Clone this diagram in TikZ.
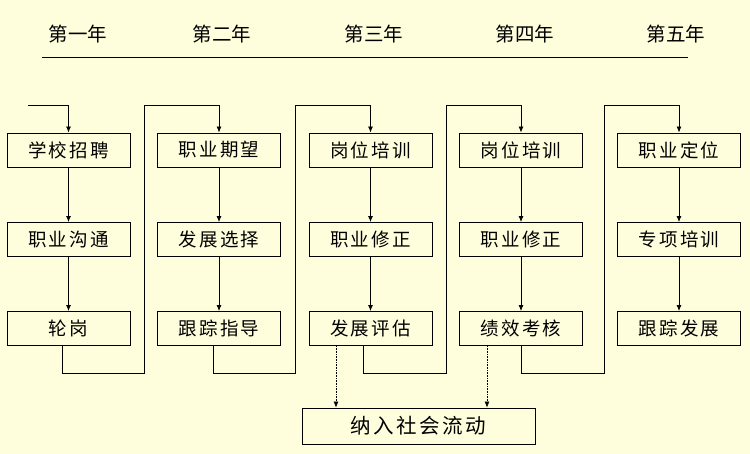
\documentclass[tikz,border=0pt]{standalone}
\usepackage{fontspec}
\usetikzlibrary{arrows.meta}
\newfontfamily\cjk[LetterSpace=12]{Noto Sans CJK SC}
\newfontfamily\cjkyear{Noto Sans CJK SC}
\definecolor{paper}{RGB}{255,254,220}
\newcommand{\boxfont}  {\cjk\fontsize{18.5}{18.5}\selectfont}
\newcommand{\yearfont} {\cjkyear\fontsize{19.5}{19.5}\selectfont}

\begin{document}
\begin{tikzpicture}[x=1pt,y=-1pt,
   stage/.style={draw,line width=0.9pt,minimum width=123pt,minimum height=34pt,
                 inner sep=0pt,font=\boxfont},
   year/.style={font=\yearfont},
   arr/.style={line width=0.8pt,-{Latex[length=6pt,width=5pt]}},
   dotarr/.style={line width=0.6pt,densely dotted,-{Latex[length=6pt,width=5pt]}}]
   \fill[paper] (0,0) rectangle (750,454);
   \useasboundingbox (0,0) rectangle (750,454);
   % years
   \node[year] (y1) at (78,34)  {第一年};
   \node[year] (y2) at (222,34) {第二年};
   \node[year] (y3) at (374,34) {第三年};
   \node[year] (y4) at (525,34) {第四年};
   \node[year] (y5) at (676,34) {第五年};
   \draw[line width=0.9pt] (42,57) -- (688,57);
   % first year
   \node[stage] (a1) at (68.5,150)  {学校招聘};
   \node[stage] (a2) at (68.5,239.5){职业沟通};
   \node[stage] (a3) at (68.5,328.5){轮岗};
   % second year
   \node[stage] (b1) at (219,150)   {职业期望};
   \node[stage] (b2) at (219,239.5) {发展选择};
   \node[stage] (b3) at (219,328.5) {跟踪指导};
   % third year
   \node[stage] (c1) at (370.5,150)  {岗位培训};
   \node[stage] (c2) at (370.5,239.5){职业修正};
   \node[stage] (c3) at (370.5,328.5){发展评估};
   % fourth year
   \node[stage] (d1) at (521,150)   {岗位培训};
   \node[stage] (d2) at (521,239.5) {职业修正};
   \node[stage] (d3) at (521,328.5) {绩效考核};
   % fifth year
   \node[stage] (f1) at (679,150)   {职业定位};
   \node[stage] (f2) at (679,239.5) {专项培训};
   \node[stage] (f3) at (679,328.5) {跟踪发展};
   \node[stage,minimum width=233pt,minimum height=36pt,
         font=\cjk\fontsize{20.5}{20.5}\selectfont] (out) at (418.5,426) {纳入社会流动};
   % down the columns
   \foreach \c in {a,b,c,d,f}{
     \draw[arr] (\c1) -- (\c2);
     \draw[arr] (\c2) -- (\c3);
   }
   % from one year to the next
   \coordinate (start) at (28,105);
   \draw[arr] (start) -| (a1.north);
   \draw[arr] ([xshift=-6pt]a3.south) -- ++(0,27) -| (144,105) -| (b1.north);
   \draw[arr] ([xshift=-6pt]b3.south) -- ++(0,27) -| (295,105) -| (c1.north);
   \draw[arr] ([xshift=-7.5pt]c3.south) -- ++(0,27) -| (446,105) -| (d1.north);
   \draw[arr] (d3.south) -- ++(0,27) -| (604,105) -| (f1.north);
   % out of the scheme
   \draw[dotarr] ([xshift=-34.5pt]c3.south) -- ([xshift=-34.5pt]c3.south |- out.north);
   \draw[dotarr] ([xshift=-34pt]d3.south) -- ([xshift=-34pt]d3.south |- out.north);
\end{tikzpicture}
\end{document}
